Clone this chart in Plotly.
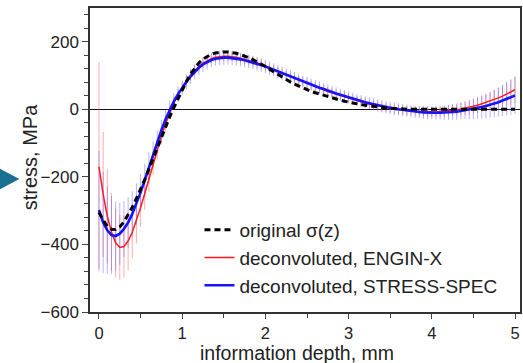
import plotly.graph_objects as go

# depth grid (mm), 0.05 mm steps
depth = [round(i * 0.05, 2) for i in range(101)]

original = [
    -305, -328, -346, -355, -356, -348, -333, -313, -290, -264,
    -237, -208, -177, -145, -112, -80, -50, -22, 5, 32,
    58, 82, 104, 122, 137, 149, 157, 163, 167, 169,
    170, 170, 169, 166, 162, 158, 153, 147, 141, 134,
    127, 119, 111, 103, 95, 88, 81, 75, 69, 63,
    58, 53, 49, 45, 41, 37, 34, 30, 27, 24,
    21, 18, 16, 14, 12, 10, 8, 6, 5, 4,
    3, 2, 1, 1, 0, 0, 0, 0, 0, 0,
    0, 0, 0, 0, 0, 0, 0, 0, 0, 0,
    0, 0, 0, 0, 0, 0, 0, 0, 0, 0,
    0,
]

enginx = [
    -170, -252, -316, -363, -395, -409, -406, -390, -364, -330,
    -291, -249, -205, -161, -119, -79, -43, -10, 19, 44,
    66, 85, 101, 115, 127, 137, 144, 150, 154, 156,
    157, 157, 156, 154, 151, 148, 145, 141, 137, 133,
    128, 123, 117, 112, 106, 101, 96, 91, 86, 81,
    76, 71, 67, 62, 58, 53, 49, 45, 41, 37,
    33, 29, 26, 22, 19, 16, 13, 10, 7, 5,
    3, 1, -1, -3, -4, -5, -6, -7, -8, -8,
    -8, -8, -7, -6, -5, -3, -1, 1, 3, 6,
    9, 12, 16, 20, 24, 29, 34, 39, 45, 51,
    58,
]

enginx_err = [
    310, 185, 140, 115, 102, 96, 92, 86, 77, 67,
    57, 48, 40, 34, 29, 25, 22, 19, 17, 16,
    15, 15, 15, 15, 15, 14, 14, 14, 14, 14,
    14, 14, 14, 14, 14, 14, 14, 14, 14, 14,
    13, 13, 13, 13, 13, 13, 13, 13, 13, 13,
    13, 13, 13, 13, 13, 13, 13, 13, 13, 13,
    13, 13, 13, 13, 13, 13, 13, 13, 13, 13,
    13, 13, 13, 13, 13, 13, 13, 14, 14, 14,
    14, 14, 15, 15, 16, 17, 18, 19, 20, 21,
    22, 23, 24, 25, 27, 29, 31, 33, 35, 37,
    40,
]

stressspec = [
    -298, -335, -358, -372, -375, -368, -354, -335, -310, -280,
    -246, -210, -172, -134, -97, -62, -29, 0, 24, 45,
    64, 81, 97, 111, 123, 133, 140, 146, 150, 152,
    153, 153, 152, 150, 148, 145, 142, 139, 135, 131,
    127, 122, 117, 112, 107, 102, 97, 92, 87, 82,
    78, 73, 69, 64, 60, 55, 51, 47, 43, 39,
    35, 31, 28, 24, 21, 18, 15, 12, 9, 6,
    4, 2, 0, -2, -4, -6, -7, -8, -9, -10,
    -10, -10, -10, -10, -9, -8, -7, -5, -3, -1,
    1, 4, 7, 10, 13, 17, 21, 26, 31, 36,
    41,
]

stressspec_err = [
    175, 150, 130, 115, 102, 92, 83, 75, 68, 61,
    55, 49, 44, 39, 35, 31, 28, 26, 24, 23,
    22, 22, 22, 22, 22, 22, 22, 21, 21, 21,
    21, 21, 21, 21, 20, 20, 20, 20, 20, 20,
    20, 20, 19, 19, 19, 19, 19, 19, 19, 18,
    18, 18, 18, 18, 18, 18, 18, 18, 18, 18,
    18, 18, 18, 18, 18, 18, 18, 18, 18, 18,
    18, 18, 18, 18, 18, 18, 18, 18, 19, 19,
    19, 20, 20, 21, 22, 23, 24, 25, 26, 28,
    30, 32, 34, 36, 38, 40, 43, 46, 49, 52,
    55,
]

x_ticks = [0, 1, 2, 3, 4, 5]
y_ticks = [-600, -400, -200, 0, 200]

FONT = "Liberation Sans, Arial, sans-serif"
W, H = 523, 363
ML, MR, MT, MB = 90, 1, 8, 51
PW, PH = W - ML - MR, H - MT - MB


def px(xp):
    return (xp - ML) / PW


def py(yp):
    return (H - MB - yp) / PH


fig = go.Figure()

# error bars (drawn below the curves)
fig.add_trace(go.Scatter(
    x=depth, y=enginx, mode="markers", marker=dict(size=0.1, opacity=0),
    error_y=dict(type="data", array=enginx_err, color="rgba(255,70,70,0.45)",
                 thickness=1, width=0),
    showlegend=False, hoverinfo="skip"))
fig.add_trace(go.Scatter(
    x=depth, y=stressspec, mode="markers", marker=dict(size=0.1, opacity=0),
    error_y=dict(type="data", array=stressspec_err, color="rgba(90,90,255,0.45)",
                 thickness=1, width=0),
    showlegend=False, hoverinfo="skip"))

fig.add_trace(go.Scatter(
    x=depth, y=enginx, mode="lines", name="deconvoluted, ENGIN-X",
    line=dict(color="#ff1a1a", width=1.5), legendrank=2))
fig.add_trace(go.Scatter(
    x=depth, y=stressspec, mode="lines", name="deconvoluted, STRESS-SPEC",
    line=dict(color="#1414ff", width=2.6), legendrank=3))
fig.add_trace(go.Scatter(
    x=depth, y=original, mode="lines", name="original σ(z)",
    line=dict(color="black", width=3, dash="6px,4px"), legendrank=1))

fig.update_layout(
    width=W, height=H,
    margin=dict(l=ML, r=MR, t=MT, b=MB),
    paper_bgcolor="white", plot_bgcolor="white",
    font=dict(family=FONT, size=17, color="#222"),
    showlegend=True,
    legend=dict(x=px(200), y=py(211), xanchor="left", yanchor="top",
                bgcolor="rgba(0,0,0,0)", font=dict(size=19, color="#222"),
                tracegroupgap=0, itemwidth=30),
    xaxis=dict(range=[-0.108, 5.06], tickvals=x_ticks, ticks="outside",
               ticklen=5, tickwidth=1, tickcolor="#444",
               minor=dict(dtick=0.5, tick0=0, ticks="outside", ticklen=4,
                          tickcolor="#444"),
               showline=True, linecolor="#333", linewidth=1.5, mirror=True,
               showgrid=False, zeroline=False,
               tickfont=dict(size=16.5, color="#222")),
    yaxis=dict(range=[-600, 300], tickvals=y_ticks, ticks="outside",
               ticklen=6, tickwidth=1, tickcolor="#444",
               minor=dict(dtick=40, tick0=0, ticks="outside", ticklen=4,
                          tickcolor="#444"),
               showline=True, linecolor="#333", linewidth=1.5, mirror=True,
               showgrid=False, zeroline=True, zerolinecolor="#111",
               zerolinewidth=1.2, tickfont=dict(size=17, color="#222")),
    yaxis2=dict(range=[-600, 300], overlaying="y", side="right",
                tickvals=y_ticks, ticks="inside", ticklen=6, tickcolor="#444",
                minor=dict(dtick=40, tick0=0, ticks="inside", ticklen=4,
                           tickcolor="#444"),
                showticklabels=False, showgrid=False, zeroline=False,
                showline=False),
)

fig.add_annotation(text="stress, MPa", xref="paper", yref="paper",
                   x=px(30), y=py(157), xanchor="center", yanchor="middle",
                   textangle=-90, showarrow=False,
                   font=dict(size=20, color="#222"))
fig.add_annotation(text="information depth, mm", xref="paper", yref="paper",
                   x=px(298), y=py(353), xanchor="center", yanchor="middle",
                   showarrow=False, font=dict(size=19.5, color="#222"))

fig.add_shape(type="path", xref="paper", yref="paper",
              path=f"M {px(-2)} {py(168)} L {px(19)} {py(179)} L {px(-2)} {py(190)} Z",
              fillcolor="#1a6f93", line=dict(width=0))

fig.write_html("out.html")
